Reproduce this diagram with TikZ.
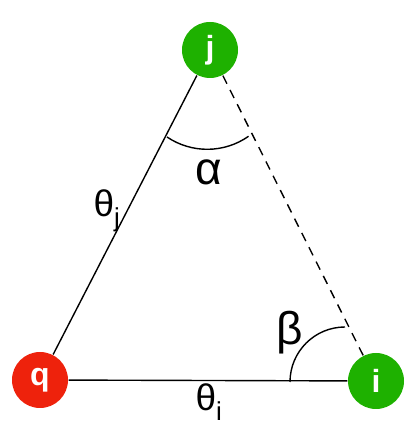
\documentclass[tikz,border=0pt]{standalone}
\usepackage{fontspec}
\setmainfont{Liberation Sans}
\usepackage{xcolor}
\usepackage{tikz}

\definecolor{ngreen}{RGB}{30,177,0}
\definecolor{nred}{RGB}{238,34,12}

\begin{document}
\begin{tikzpicture}[x=1pt,y=1pt,line width=1.4pt,
  vertex/.style={circle, inner sep=0pt, minimum size=56pt, text=white, font=\fontsize{32}{36}\selectfont\bfseries},
  theta/.style={font=\fontsize{37}{40}\selectfont},
  greek/.style={font=\fontsize{46}{50}\selectfont}]
\useasboundingbox (0,0) rectangle (417,427);
% Points
\node[vertex, fill=nred] (q) at (40,47) {q};
\node[vertex, fill=ngreen] (j) at (210,377) {j};
\node[vertex, fill=ngreen] (i) at (376,46) {i};

%Lines
\draw (q) -- (j);
\draw[dash pattern=on 9pt off 7pt] (j) -- (i);
\draw (q) -- (i);

%Angles
\coordinate (a1) at (167,290);
\coordinate (b1) at (290,45);
\draw (a1) arc[start angle=236, end angle=305, radius=72];
\draw (b1) arc[start angle=180, end angle=90, radius=55];

%Labels
\node[theta] (tj) at (107,216) {θ\textsubscript{j}};
\node[theta] (ti) at (209,25) {θ\textsubscript{i}};
\node[greek] (al) at (209,255) {α};
\node[greek] (be) at (290,94) {β};
\end{tikzpicture}
\end{document}
